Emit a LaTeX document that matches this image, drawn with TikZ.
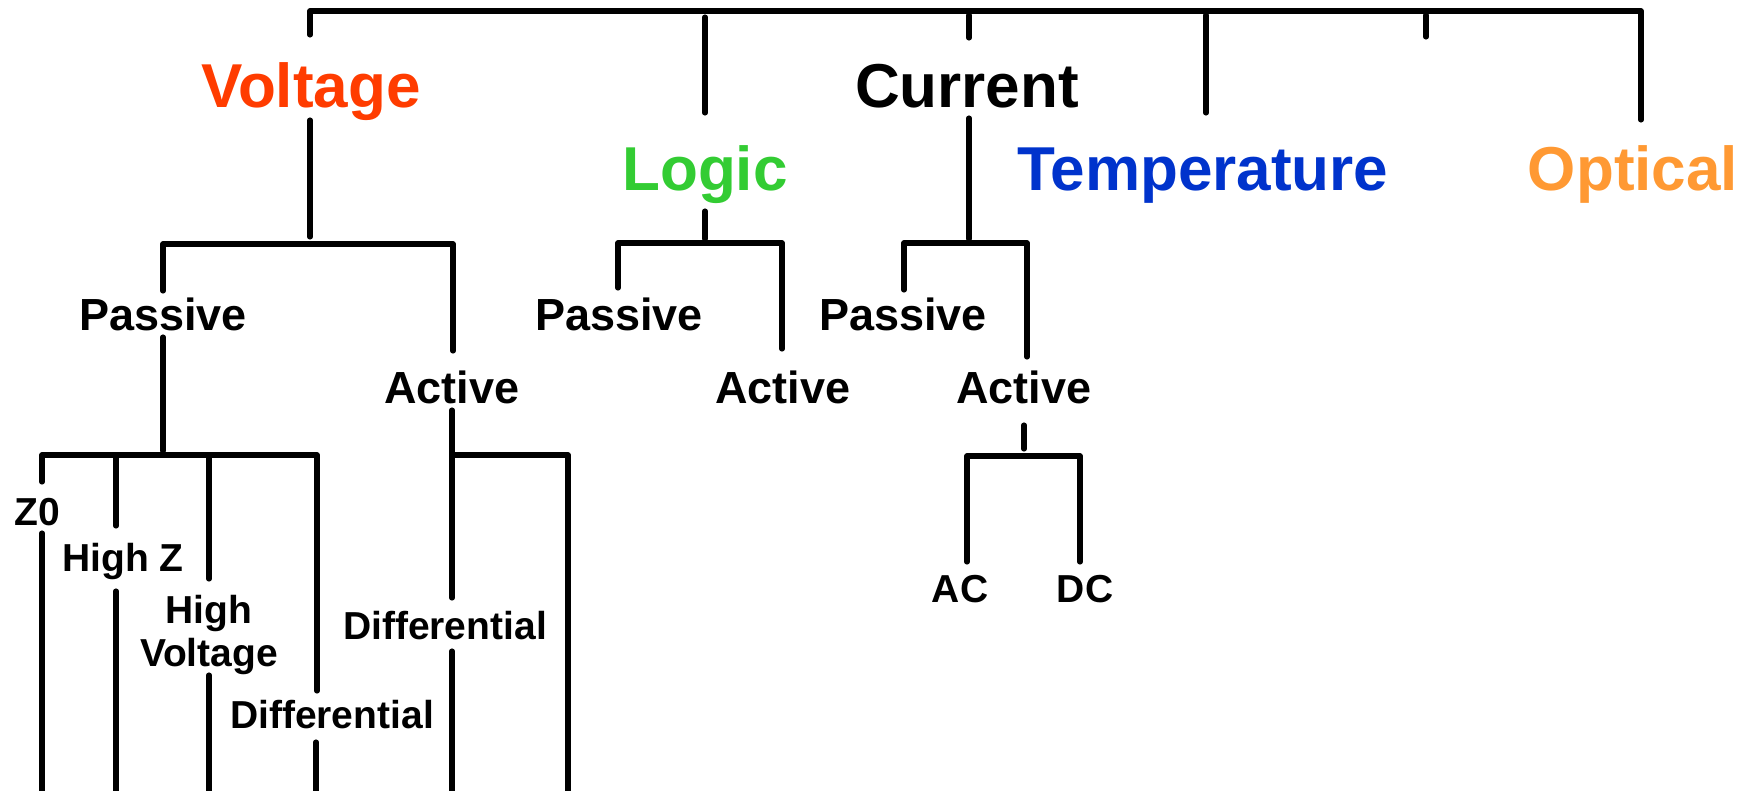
\documentclass[tikz,border=0pt]{standalone}
\usepackage{fontspec}
\setmainfont{Liberation Sans}
\definecolor{voltred}{RGB}{255,60,0}
\definecolor{logicgreen}{RGB}{51,204,51}
\definecolor{tempblue}{RGB}{0,51,204}
\definecolor{optorange}{RGB}{255,153,51}
\tikzset{
  lbl/.style={inner sep=0pt, anchor=base, font=\bfseries},
  top/.style={lbl, font=\fontsize{62}{62}\selectfont\bfseries},
  mid/.style={lbl, font=\fontsize{45}{45}\selectfont\bfseries},
  leaf/.style={lbl, font=\fontsize{39}{39}\selectfont\bfseries, align=center},
  wire/.style={line width=5.1pt, line join=round, line cap=round}
}
\begin{document}
\begin{tikzpicture}[x=1pt,y=-1pt]
\useasboundingbox (0,0) rectangle (1746,790);
\clip (0,0) rectangle (1746,790);

% category labels
\node[top, text=voltred]    (volt) at (311,107) {Voltage};
\node[top]                  (curr) at (967,107) {Current};
\node[top, text=logicgreen] (logic) at (705,190) {Logic};
\node[top, text=tempblue]   (temp) at (1203,190) {Temperature};
\node[top, text=optorange]  (opt) at (1633,190) {Optical};

% second level
\node[mid] (vpas) at (163,330) {Passive};
\node[mid] (vact) at (452,403) {Active};
\node[mid] (lpas) at (619,330) {Passive};
\node[mid] (lact) at (783,403) {Active};
\node[mid] (cpas) at (903,330) {Passive};
\node[mid] (cact) at (1024,403) {Active};

% leaves
\node[leaf] (z0)    at (37,525)  {Z0};
\node[leaf] (hiz)   at (123,571) {High Z};
\node[leaf] (hiv1)  at (209,623) {High};
\node[leaf] (hiv2)  at (209,666) {Voltage};
\node[leaf] (vdiff) at (332,728) {Differential};
\node[leaf] (adiff) at (445,639) {Differential};
\node[leaf] (ac)    at (960,602) {AC};
\node[leaf] (dc)    at (1085,602) {DC};

% junction points
\coordinate (rootL) at (310,11);
\coordinate (rootR) at (1641,11);
\coordinate (vbrL) at (163,244);
\coordinate (vbrR) at (453,244);
\coordinate (pbrL) at (42,455);
\coordinate (pbrR) at (317,455);
\coordinate (abrL) at (452,455);
\coordinate (abrR) at (568,455);
\coordinate (lbrL) at (618,243);
\coordinate (lbrR) at (782,243);
\coordinate (cbrL) at (904,243);
\coordinate (cbrR) at (1027,243);
\coordinate (dbrL) at (967,456);
\coordinate (dbrR) at (1080,456);

% top bar and drops
\draw[wire] (310,35) -- (rootL) -- (rootR) -- (1641,120);
\draw[wire] (705,17) -- (705,113);
\draw[wire] (969,15) -- (969,38);
\draw[wire] (1206,15) -- (1206,113);
\draw[wire] (1426,15) -- (1426,37);

% voltage branch
\draw[wire] (310,120) -- (310,237);
\draw[wire] (163,291) -- (vbrL) -- (vbrR) -- (453,351);
\draw[wire] (163,337) -- (163,451);
\draw[wire] (42,482) -- (pbrL) -- (pbrR) -- (317,691);
\draw[wire] (116,455) -- (116,526);
\draw[wire] (209,455) -- (209,579);
\draw[wire] (42,533) -- (42,800);
\draw[wire] (116,591) -- (116,800);
\draw[wire] (209,675) -- (209,800);
\draw[wire] (316,742) -- (316,800);
\draw[wire] (452,410) -- (452,598);
\draw[wire] (abrL) -- (abrR) -- (568,800);
\draw[wire] (452,651) -- (452,800);

% logic branch
\draw[wire] (705,211) -- (705,239);
\draw[wire] (618,288) -- (lbrL) -- (lbrR) -- (782,349);

% current branch
\draw[wire] (969,118) -- (969,239);
\draw[wire] (904,290) -- (cbrL) -- (cbrR) -- (1027,357);
\draw[wire] (1024,425) -- (1024,449);
\draw[wire] (967,562) -- (dbrL) -- (dbrR) -- (1080,562);
\end{tikzpicture}
\end{document}
